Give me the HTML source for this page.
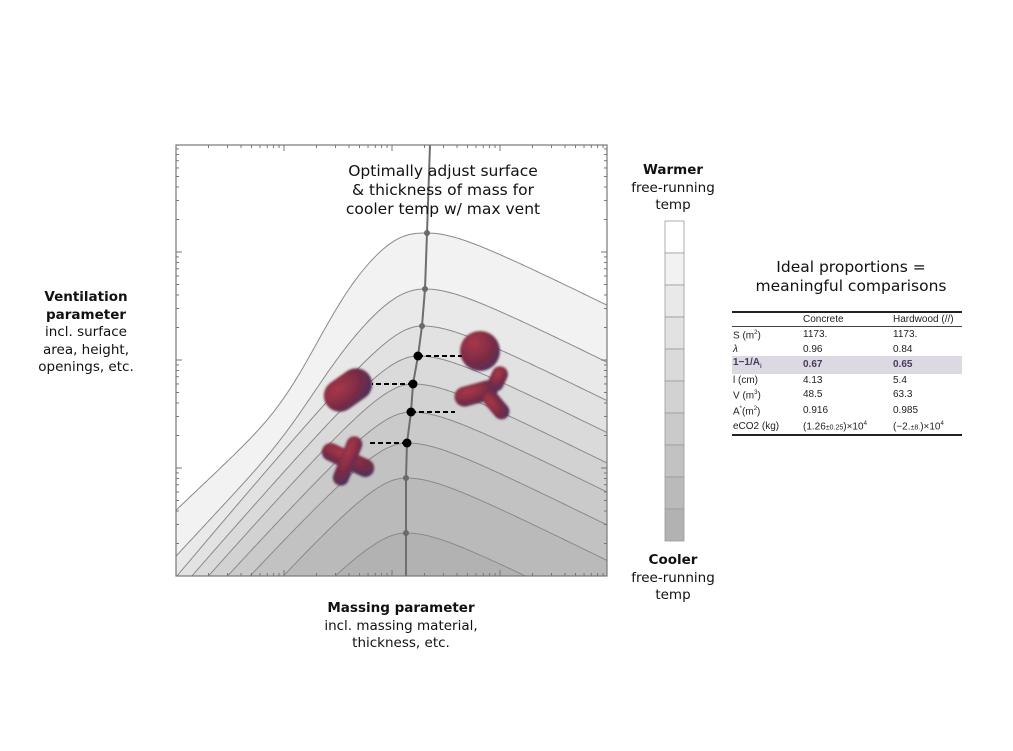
<!DOCTYPE html>
<html><head><meta charset="utf-8">
<style>
html,body{margin:0;background:#fff;width:1013px;height:751px;overflow:hidden}
body{font-family:"DejaVu Sans",Verdana,sans-serif;color:#111;position:relative}
.t{position:absolute;text-align:center;font-size:14px;line-height:17.5px}
.b{font-weight:bold}
table{border-collapse:collapse;font-family:"Liberation Sans",Arial,sans-serif;font-size:10px;color:#222;table-layout:fixed}
td{padding:0 1px;height:13.3px;line-height:13px;white-space:nowrap}
</style></head><body>
<svg id="chart" width="1013" height="751" style="position:absolute;left:0;top:0">
<defs>
<clipPath id="pc"><rect x="176" y="145" width="431" height="431"/></clipPath>
<radialGradient id="rg" cx="0.35" cy="0.3" r="0.8"><stop offset="0" stop-color="#a83848"/><stop offset="0.55" stop-color="#7e2c44"/><stop offset="1" stop-color="#4c2e5a"/></radialGradient>
<filter id="bl"><feGaussianBlur stdDeviation="1"/></filter>
</defs>
<g id="plot" clip-path="url(#pc)"></g>
<g id="overlay"></g>
<rect x="176" y="145" width="431" height="431" fill="none" stroke="#777" stroke-width="1.2"/>
<g id="ticks"></g>
<g id="cbar"></g>
</svg>
<script>
const ridgeX=[427,425,422,418,413,411,407,406,406];
const ridgeY=[233,289,326,356,384,412,443,478,533];
const leftSlope=[1.33,1.22,1.2,1.16,1.14,1.11,1.09,1.1,1.04];
const bandColors=['#ffffff','#f2f2f2','#e9e9e9','#e2e2e2','#dadada','#d2d2d2','#cacaca','#c2c2c2','#bababa','#b2b2b2'];
const dotLevels=[3,4,5,6];
const dotTargets=[462,372,455,367];
const NS='http://www.w3.org/2000/svg';
function mk(t,a,p){const e=document.createElementNS(NS,t);for(const k in a)e.setAttribute(k,a[k]);p.appendChild(e);return e;}
const L=176,R=607,T=145,B=576;
const prof=[0];
for(let d=1;d<=500;d++){const s=0.95+0.85*Math.exp(-Math.pow((d-110)/45,2))-0.95*Math.exp(-Math.pow(d/35,2));prof.push(prof[d-1]+s);}
function cy(i,x){const px=ridgeX[i],py=ridgeY[i];const d=x-px;
 if(d<0){const dd=Math.min(500,Math.round(-d));
  const hyp=leftSlope[i]*(Math.sqrt(dd*dd+1600)-40);
  const w=i==0?1:(i==1?0.5:0);
  return py+w*prof[dd]+(1-w)*hyp;}
 return py+0.5*(Math.sqrt(d*d+40*40)-40);}
const plot=document.getElementById('plot');
const bg=mk('rect',{x:L,y:T,width:R-L,height:B-T,fill:bandColors[0]},plot);


for(let i=0;i<ridgeX.length;i++){
 let d='M'+L+','+cy(i,L).toFixed(1);
 for(let x=L;x<=R;x+=2)d+=' L'+x+','+cy(i,x).toFixed(1);
 d+=' L'+R+','+cy(i,R).toFixed(1);
 const band=mk('path',{d:d+' L'+R+','+(B+10)+' L'+L+','+(B+10)+'Z',fill:bandColors[i+1]},plot);
 
 
 const ln=mk('path',{d:d,fill:'none',stroke:'#8a8a8a','stroke-width':1},plot);
 
 
}
let rd='M430,'+T;
for(let i=0;i<ridgeX.length;i++)rd+=' L'+ridgeX[i]+','+ridgeY[i];
rd+=' L406,'+B;
const ridge=mk('path',{d:rd,fill:'none',stroke:'#6e6e6e','stroke-width':2},plot);


const ov=document.getElementById('overlay');
for(let i=0;i<ridgeX.length;i++){
 if(dotLevels.includes(i))continue;
 const c=mk('circle',{cx:ridgeX[i],cy:ridgeY[i],r:3,fill:'#6a6a6a'},ov);
 
 
}
const bl=mk('g',{filter:'url(#bl)'},ov);


mk('circle',{cx:480,cy:351,r:20,fill:'url(#rg)'},bl);
mk('rect',{x:-26,y:-16,width:52,height:32,rx:16,fill:'url(#rg)',transform:'translate(348,390) rotate(-35)'},bl);
const y1=mk('g',{transform:'translate(478,393)'},bl);
mk('rect',{x:-24,y:-10,width:44,height:20,rx:10,fill:'url(#rg)',transform:'rotate(-15)'},y1);
mk('rect',{x:-8,y:-22,width:16,height:26,rx:8,fill:'url(#rg)',transform:'translate(16,-6) rotate(25)'},y1);
mk('rect',{x:-8,y:0,width:16,height:32,rx:8,fill:'url(#rg)',transform:'translate(8,0) rotate(-40)'},y1);
const x1=mk('g',{transform:'translate(348,460)'},bl);
mk('rect',{x:-28,y:-9,width:56,height:18,rx:9,fill:'url(#rg)',transform:'rotate(25)'},x1);
mk('rect',{x:-8,y:-25,width:16,height:52,rx:8,fill:'url(#rg)',transform:'rotate(22)'},x1);
dotLevels.forEach((li,k)=>{
 const ln=mk('line',{x1:ridgeX[li],y1:ridgeY[li],x2:dotTargets[k],y2:ridgeY[li],stroke:'#000','stroke-width':2,'stroke-dasharray':'5,3'},ov);
 
 
 const c=mk('circle',{cx:ridgeX[li],cy:ridgeY[li],r:4.5,fill:'#000'},ov);
 
 
});
const tk=document.getElementById('ticks');
const dec=108;
for(let k=0;k<4;k++)for(let m=1;m<10;m++){
 const off=Math.log10(m)*dec+k*dec;const len=m==1?6:3;
 const xx=L+off, yy=B-off;
 if(xx<=R){mk('line',{x1:xx,y1:B,x2:xx,y2:B-len,stroke:'#777'},tk);mk('line',{x1:xx,y1:T,x2:xx,y2:T+len,stroke:'#777'},tk);}
 if(yy>=T){mk('line',{x1:L,y1:yy,x2:L+len,y2:yy,stroke:'#777'},tk);mk('line',{x1:R,y1:yy,x2:R-len,y2:yy,stroke:'#777'},tk);}
}


const cb=document.getElementById('cbar');


bandColors.forEach((c,i)=>{
 const r=mk('rect',{x:665,y:221+i*32,width:19,height:32,fill:c,stroke:'#9a9a9a','stroke-width':0.8},cb);
 
 
});
</script>
<div class="t" style="left:318px;top:162px;width:250px;font-size:15.5px;line-height:19px">Optimally adjust surface<br>&amp; thickness of mass for<br>cooler temp w/ max vent</div>
<div class="t" style="left:6px;top:289px;width:160px;font-size:13.5px"><span class="b">Ventilation<br>parameter</span><br>incl. surface<br>area, height,<br>openings, etc.</div>
<div class="t" style="left:300px;top:600px;width:202px;font-size:13.5px"><span class="b">Massing parameter</span><br>incl. massing material,<br>thickness, etc.</div>
<div class="t" style="left:613px;top:162px;width:120px;font-size:13.5px"><span class="b">Warmer</span><br>free-running<br>temp</div>
<div class="t" style="left:613px;top:552px;width:120px;font-size:13.5px"><span class="b">Cooler</span><br>free-running<br>temp</div>
<div class="t" style="left:731px;top:258px;width:240px;font-size:15.5px;line-height:18.5px">Ideal proportions =<br>meaningful comparisons</div>
<div style="position:absolute;left:732px;top:311px;width:230px">
<table style="width:230px;border-top:2px solid #222;border-bottom:2px solid #222">
<colgroup><col style="width:70px"><col style="width:90px"><col style="width:70px"></colgroup>
<tr style="border-bottom:1px solid #444"><td></td><td>Concrete</td><td>Hardwood (//)</td></tr>
<tr><td>S (m<sup style="font-size:6px">2</sup>)</td><td>1173.</td><td>1173.</td></tr>
<tr><td><i>λ</i></td><td>0.96</td><td>0.84</td></tr>
<tr style="background:#dcd9e2;color:#4a3a5e;font-weight:bold"><td>1−1/A<sub style="font-size:6px">i</sub></td><td>0.67</td><td>0.65</td></tr>
<tr><td>l (cm)</td><td>4.13</td><td>5.4</td></tr>
<tr><td>V (m<sup style="font-size:6px">3</sup>)</td><td>48.5</td><td>63.3</td></tr>
<tr><td>A<sup style="font-size:6px">*</sup>(m<sup style="font-size:6px">2</sup>)</td><td>0.916</td><td>0.985</td></tr>
<tr><td>eCO2 (kg)</td><td>(1.26<span style="font-size:7px">±0.25</span>)×10<sup style="font-size:6px">4</sup></td><td>(−2.<span style="font-size:7px">±8.</span>)×10<sup style="font-size:6px">4</sup></td></tr>
</table></div>
</body></html>
